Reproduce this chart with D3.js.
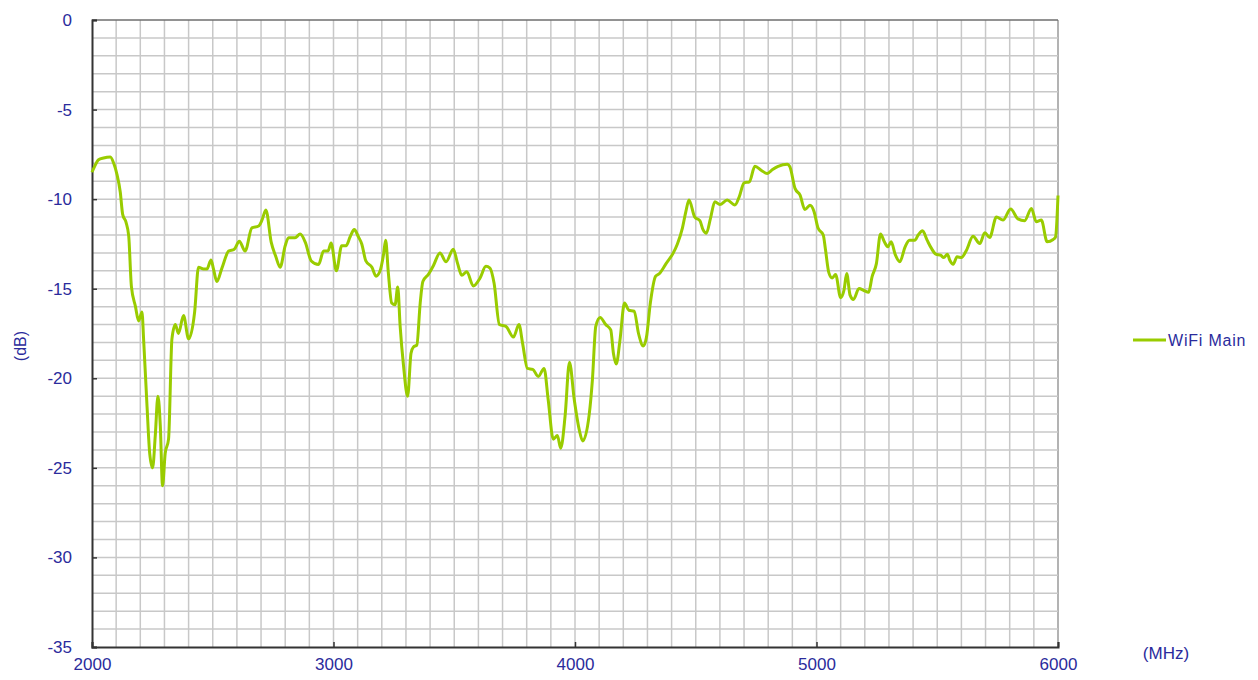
<!DOCTYPE html>
<html>
<head>
<meta charset="utf-8">
<script src="https://cdn.jsdelivr.net/npm/d3@7"></script>
<style>
  body { margin: 0; background: #fff; }
  text { font-family: "Liberation Sans", Arial, sans-serif; }
</style>
</head>
<body>
<div id="chart"></div>
<script>
const freqMHz = [2000, 2010, 2027, 2048, 2076, 2090, 2103, 2117, 2127, 2141, 2152, 2163, 2180, 2193, 2207, 2214,
    2228, 2239, 2251, 2262, 2273, 2283, 2292, 2303, 2317, 2331, 2345, 2358, 2379, 2400, 2425, 2441, 2462, 2476,
    2493, 2503, 2517, 2538, 2566, 2589, 2610, 2634, 2662, 2690, 2703, 2720, 2742, 2761, 2779, 2800, 2814, 2841,
    2862, 2883, 2908, 2938, 2959, 2977, 2990, 3012, 3034, 3052, 3069, 3086, 3103, 3117, 3134, 3159, 3176, 3193,
    3207, 3216, 3227, 3241, 3255, 3266, 3276, 3290, 3307, 3321, 3331, 3345, 3359, 3370, 3393, 3414, 3441, 3466,
    3496, 3514, 3531, 3552, 3579, 3607, 3631, 3648, 3665, 3687, 3714, 3745, 3768, 3783, 3803, 3825, 3848, 3872,
    3889, 3910, 3927, 3941, 3959, 3977, 3997, 4018, 4032, 4059, 4072, 4086, 4104, 4127, 4148, 4159, 4171, 4186,
    4205, 4223, 4245, 4263, 4283, 4296, 4312, 4334, 4350, 4377, 4407, 4424, 4445, 4459, 4472, 4496, 4517, 4530,
    4544, 4561, 4579, 4600, 4630, 4662, 4680, 4700, 4722, 4745, 4772, 4796, 4818, 4841, 4879, 4890, 4911, 4932,
    4952, 4973, 4990, 5006, 5028, 5037, 5051, 5065, 5079, 5100, 5114, 5125, 5139, 5153, 5176, 5196, 5216, 5230,
    5248, 5265, 5281, 5295, 5309, 5327, 5345, 5367, 5385, 5407, 5421, 5439, 5458, 5476, 5494, 5514, 5527, 5542,
    5552, 5566, 5582, 5600, 5621, 5648, 5676, 5697, 5717, 5745, 5772, 5804, 5834, 5862, 5890, 5910, 5931, 5955,
    5980, 5990, 6000];
const gainDb = [-8.5, -8.2, -7.8, -7.7, -7.65, -8.0, -8.6, -9.6, -10.85, -11.3, -12.05, -14.85, -16.0, -16.8, -16.3, -17.9,
    -21.6, -24.2, -25.0, -23.2, -21.0, -22.7, -26.0, -24.2, -23.4, -17.8, -17.0, -17.5, -16.5, -17.8, -16.3, -13.8, -13.9, -13.9,
    -13.4, -13.9, -14.6, -13.85, -12.9, -12.8, -12.35, -12.9, -11.6, -11.5, -11.2, -10.6, -12.4, -13.2, -13.8, -12.6, -12.15, -12.15,
    -11.95, -12.4, -13.45, -13.65, -12.9, -12.9, -12.45, -14.0, -12.6, -12.6, -12.1, -11.7, -12.1, -12.5, -13.45, -13.8, -14.3, -14.0,
    -13.1, -12.3, -14.1, -15.8, -15.9, -14.9, -17.1, -19.3, -21.0, -18.6, -18.25, -18.15, -15.8, -14.6, -14.2, -13.7, -13.0, -13.5,
    -12.8, -13.6, -14.25, -14.05, -14.85, -14.4, -13.75, -13.85, -14.7, -17.0, -17.1, -17.7, -17.0, -18.05, -19.45, -19.5, -19.9, -19.45,
    -21.2, -23.4, -23.2, -23.9, -22.1, -19.1, -21.2, -22.9, -23.5, -22.0, -20.1, -17.1, -16.6, -17.0, -17.3, -18.6, -19.2, -17.9,
    -15.8, -16.2, -16.25, -17.5, -18.2, -17.7, -15.8, -14.3, -14.15, -13.6, -13.0, -12.5, -11.6, -10.7, -10.05, -11.0, -11.2, -11.7,
    -11.9, -11.07, -10.15, -10.3, -10.05, -10.33, -9.87, -9.09, -9.03, -8.17, -8.4, -8.57, -8.35, -8.17, -8.05, -8.2, -9.4, -9.78,
    -10.58, -10.34, -10.7, -11.6, -12.0, -12.8, -14.1, -14.4, -14.2, -15.5, -15.07, -14.15, -15.36, -15.6, -14.99, -15.1, -15.2, -14.34,
    -13.6, -11.95, -12.38, -12.66, -12.38, -13.13, -13.5, -12.66, -12.29, -12.29, -12.0, -11.77, -12.29, -12.75, -13.07, -13.13, -13.26, -13.07,
    -13.41, -13.63, -13.22, -13.26, -12.85, -12.07, -12.48, -11.88, -12.14, -11.0, -11.17, -10.55, -11.1, -11.2, -10.52, -11.26, -11.17, -12.38,
    -12.25, -12.1, -9.8];

const seriesName = "WiFi Main";
const xTicks = [2000, 3000, 4000, 5000, 6000];
const yTicks = [0, -5, -10, -15, -20, -25, -30, -35];
const xUnit = "(MHz)";
const yUnit = "(dB)";

function drawChart() {
    var W = 1258, H = 680;
    var margin = { top: 20, right: 200, bottom: 33, left: 92 };
    var width = W - margin.left - margin.right,   // 966
        height = H - margin.top - margin.bottom;  // 627

    var labelColor = "#2b2b9c";
    var lineColor = "#99cc00";

    var svg = d3.select("#chart")
        .append("svg")
        .attr("width", W)
        .attr("height", H);

    var g = svg.append("g")
        .attr("transform", "translate(" + margin.left + "," + margin.top + ")");

    var x = d3.scaleLinear()
        .domain([2000, 6000])
        .range([0, width]);

    var y = d3.scaleLinear()
        .domain([-35, 0])
        .range([height, 0]);

    // grid every 100 MHz and every 1 dB
    g.append("g")
        .selectAll("line")
        .data(d3.range(2100, 6001, 100))
        .join("line")
        .attr("x1", (d) => x(d)).attr("x2", (d) => x(d))
        .attr("y1", 0).attr("y2", height)
        .attr("stroke", (d) => d === 6000 ? "#9a9a9a" : "#c8c8c8")
        .attr("stroke-width", 1.5);

    g.append("g")
        .selectAll("line")
        .data(d3.range(-34, 0, 1))
        .join("line")
        .attr("x1", 0).attr("x2", width)
        .attr("y1", (d) => y(d)).attr("y2", (d) => y(d))
        .attr("stroke", "#c8c8c8")
        .attr("stroke-width", 1.5);

    // top border
    g.append("line")
        .attr("x1", 0).attr("x2", width)
        .attr("y1", 0).attr("y2", 0)
        .attr("stroke", "#6e6e6e")
        .attr("stroke-width", 1.5);

    // plain hyphen minus like the original labels
    var fmt = (d) => String(d);

    // axes, ticks pointing inside
    var yAxis = g.append("g")
        .call(d3.axisLeft(y).tickValues(yTicks).tickSize(-5).tickPadding(20).tickFormat(fmt));
    yAxis.select(".domain").attr("stroke", "#333").attr("stroke-width", 2);
    yAxis.selectAll(".tick line").attr("stroke", "#333").attr("stroke-width", 1.5);
    yAxis.selectAll(".tick text")
        .attr("fill", labelColor)
        .style("font-size", "17px")
        .style("font-family", "Liberation Sans, Arial, sans-serif");

    var xAxis = g.append("g")
        .attr("transform", "translate(0," + height + ")")
        .call(d3.axisBottom(x).tickValues(xTicks).tickSize(-5).tickPadding(11).tickFormat(fmt));
    xAxis.select(".domain").attr("stroke", "#333").attr("stroke-width", 2);
    xAxis.selectAll(".tick line").attr("stroke", "#333").attr("stroke-width", 1.5);
    xAxis.selectAll(".tick text")
        .attr("fill", labelColor)
        .style("font-size", "17px")
        .style("font-family", "Liberation Sans, Arial, sans-serif");

    // the series
    var data = freqMHz.map((f, i) => [f, gainDb[i]]);
    g.append("path")
        .datum(data)
        .attr("fill", "none")
        .attr("stroke", lineColor)
        .attr("stroke-width", 3)
        .attr("stroke-linejoin", "round")
        .attr("d", d3.line()
            .curve(d3.curveMonotoneX)
            .x((d) => x(d[0]))
            .y((d) => y(d[1]))
        );

    // unit labels
    svg.append("text")
        .attr("transform", "translate(22," + (margin.top + height * 0.52) + ") rotate(-90)")
        .attr("text-anchor", "middle")
        .attr("dominant-baseline", "middle")
        .attr("fill", labelColor)
        .style("font-size", "16px")
        .text(yUnit);

    svg.append("text")
        .attr("x", 1166)
        .attr("y", 659)
        .attr("text-anchor", "middle")
        .attr("fill", labelColor)
        .style("font-size", "17px")
        .text(xUnit);

    // legend
    var legend = svg.append("g")
        .attr("transform", "translate(1133,340)");
    legend.append("line")
        .attr("x1", 0).attr("x2", 33)
        .attr("y1", 0).attr("y2", 0)
        .attr("stroke", lineColor)
        .attr("stroke-width", 3);
    legend.append("text")
        .attr("x", 35)
        .attr("y", 6)
        .attr("fill", labelColor)
        .style("font-size", "16px")
        .style("letter-spacing", "0.8px")
        .text(seriesName);
}

drawChart();
</script>
</body>
</html>
